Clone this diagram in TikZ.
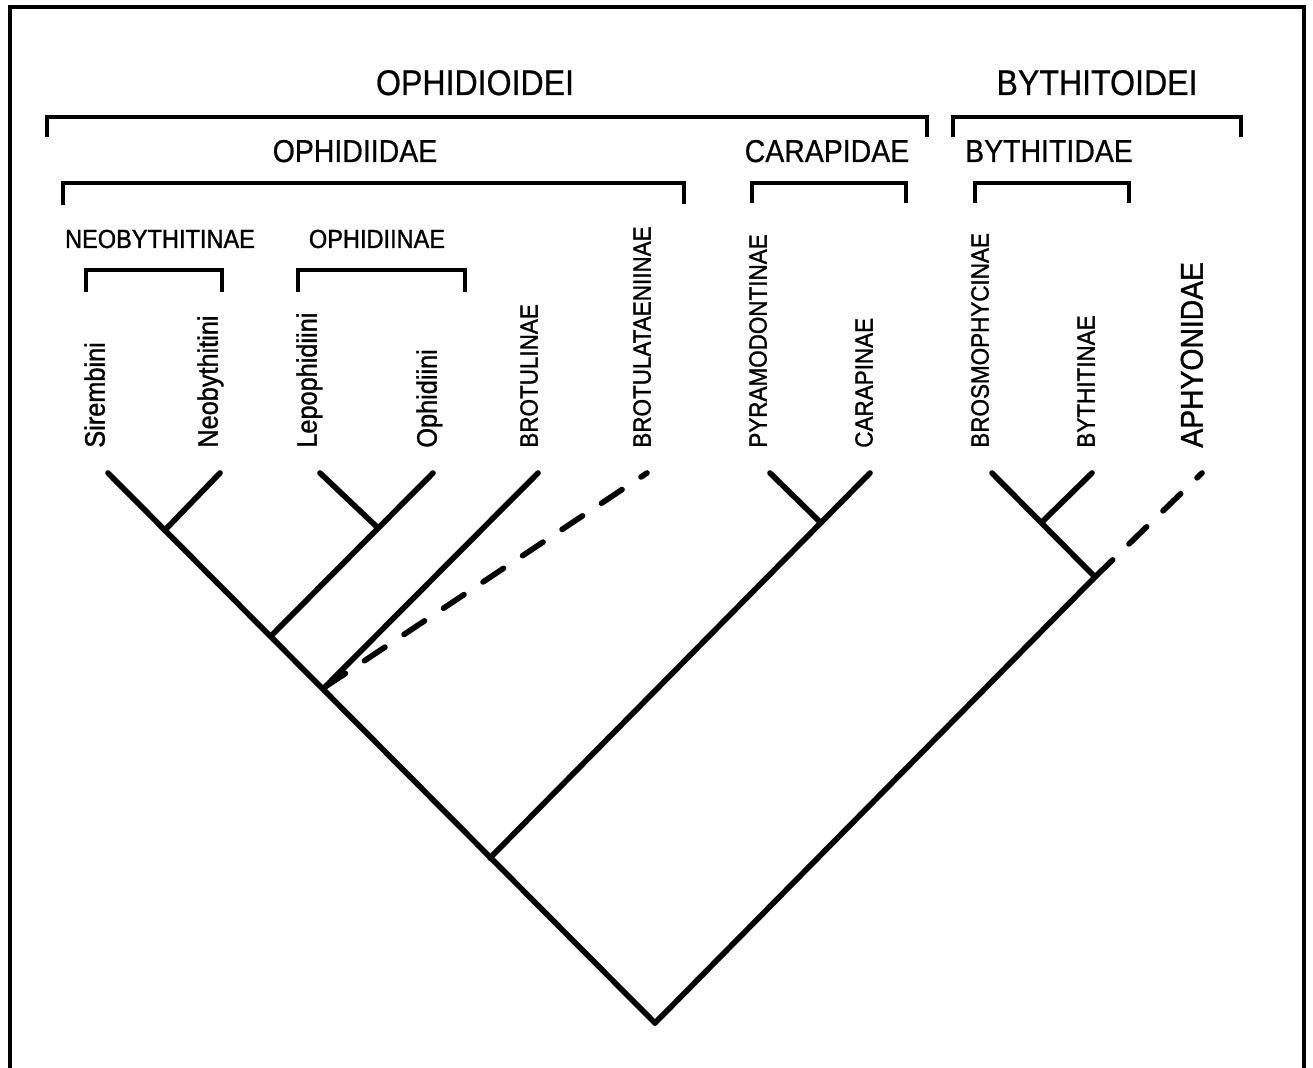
\documentclass[tikz,border=0pt]{standalone}
\usepackage{fontspec}
\setmainfont[FakeStretch=0.9]{Liberation Sans}
\newfontfamily\heavyfont[FakeStretch=0.9, FakeBold=1.2]{Liberation Sans}
\newfontfamily\midfont[FakeStretch=0.9, FakeBold=0.6]{Liberation Sans}
\usetikzlibrary{positioning}

\begin{document}
\begin{tikzpicture}[x=0.02cm, y=-0.02cm, line cap=round, line join=round]
\tikzstyle{every node} = [inner sep=0pt]
\tikzstyle{branch} = [line width=3.2pt]
\tikzstyle{doubtful} = [branch, dash pattern=on 14pt off 13pt]
\tikzstyle{bracket} = [line width=2pt, line cap=butt, line join=miter]
\tikzstyle{group} = [anchor=base, font=\midfont\fontsize{18}{21}\selectfont]
\tikzstyle{taxon} = [rotate=90, anchor=mid west, font=\heavyfont\fontsize{14.2}{16}\selectfont]
\tikzstyle{tribe} = [taxon, font=\heavyfont\fontsize{16}{18}\selectfont]
\useasboundingbox (0,0) rectangle (1313,1068);
% frame, open at the bottom
\draw[line width=2.2pt, line cap=butt, line join=miter] (10,1068) -- (10,7) -- (1304,7) -- (1304,1068);

% suborders
\node[group, font=\midfont\fontsize{20.3}{24}\selectfont] (ophidioidei) at (475,95) {OPHIDIOIDEI};
\node[group, font=\midfont\fontsize{20.3}{24}\selectfont] (bythitoidei) at (1097,95) {BYTHITOIDEI};
\draw[bracket] (47,137) -- (47,117) -- (927,117) -- (927,137);
\draw[bracket] (953,137) -- (953,117) -- (1241,117) -- (1241,137);
% families
\node[group] (ophidiidae) at (355,162) {OPHIDIIDAE};
\node[group] (carapidae) at (827,162) {CARAPIDAE};
\node[group] (bythitidae) at (1049,162) {BYTHITIDAE};
\draw[bracket] (63,205) -- (63,183) -- (684,183) -- (684,204);
\draw[bracket] (752,203) -- (752,183) -- (906,183) -- (906,203);
\draw[bracket] (975,203) -- (975,183) -- (1129,183) -- (1129,203);
% subfamilies
\node[group, font=\heavyfont\fontsize{14.9}{17}\selectfont] (neobythitinae) at (160,248) {NEOBYTHITINAE};
\node[group, font=\heavyfont\fontsize{14.9}{17}\selectfont] (ophidiinae) at (377,248) {OPHIDIINAE};
\draw[bracket] (86,292) -- (86,270) -- (222,270) -- (222,292);
\draw[bracket] (298,292) -- (298,270) -- (465,270) -- (465,292);

% terminal taxa
\node[tribe] (sir) at (100,448) {Sirembini};
\node[tribe] (neo) at (213,448) {Neobythitini};
\node[tribe] (lep) at (312,448) {Lepophidiini};
\node[tribe] (oph) at (432,448) {Ophidiini};
\node[taxon] (bro) at (533,448) {BROTULINAE};
\node[taxon] (brt) at (646,448) {BROTULATAENIINAE};
\node[taxon] (pyr) at (762,448) {PYRAMODONTINAE};
\node[taxon] (car) at (868,448) {CARAPINAE};
\node[taxon] (brs) at (984,448) {BROSMOPHYCINAE};
\node[taxon] (byt) at (1090,448) {BYTHITINAE};
\node[taxon, font=\heavyfont\fontsize{17.9}{20}\selectfont] (aph) at (1198,448) {APHYONIDAE};

% tips
\coordinate (1) at (108,473);
\coordinate (2) at (220,473);
\coordinate (3) at (320,473);
\coordinate (4) at (433,473);
\coordinate (5) at (538,473);
\coordinate (6) at (647,473);
\coordinate (7) at (770,473);
\coordinate (8) at (870,473);
\coordinate (9) at (992,473);
\coordinate (10) at (1092,473);
\coordinate (11) at (1202,473);
% internal nodes
\coordinate (0) at (655,1023);
\coordinate (a) at (165,530);
\coordinate (b) at (272,635);
\coordinate (c) at (377,527);
\coordinate (d) at (325,687);
\coordinate (e) at (490,858);
\coordinate (f) at (820,522);
\coordinate (g) at (1095,577);
\coordinate (h) at (1042,522);

\draw[branch] (0) -- (1);
\draw[branch] (a) -- (2);
\draw[branch] (b) -- (4);
\draw[branch] (c) -- (3);
\draw[branch] (d) -- (5);
\draw[doubtful] (d) -- (6);
\draw[branch] (e) -- (8);
\draw[branch] (f) -- (7);
\draw[branch] (0) -- (g) -- (9);
\draw[branch] (h) -- (10);
\draw[doubtful] (g) -- (11);
\end{tikzpicture}
\end{document}
